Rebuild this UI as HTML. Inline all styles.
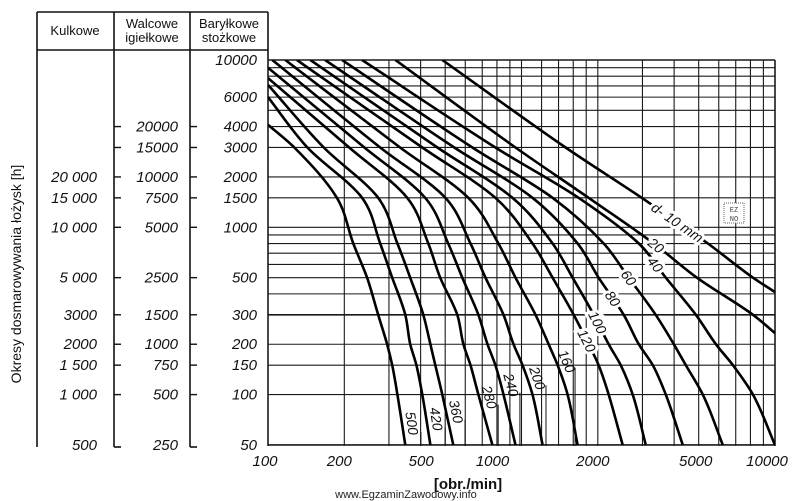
<!DOCTYPE html>
<html><head><meta charset="utf-8"><style>
html,body{margin:0;padding:0;background:#fff;overflow:hidden;}
svg{display:block;}
.it{font-family:"Liberation Sans",sans-serif;font-style:italic;font-size:15px;fill:#111;}
.hd{font-family:"Liberation Sans",sans-serif;font-size:13px;fill:#111;}
</style></head><body>
<svg id="chart" width="800" height="501" viewBox="0 0 800 501" xmlns="http://www.w3.org/2000/svg">
<g id="grid"></g>
<g id="curves"></g>
<g id="labels"></g>
<g id="cols"></g>
<g stroke="#111" stroke-width="1.6" fill="none">
  <line x1="37" y1="12" x2="268" y2="12"/>
  <line x1="37" y1="50" x2="268" y2="50"/>
  <line x1="37" y1="12" x2="37" y2="447"/>
  <line x1="114" y1="12" x2="114" y2="447"/><line x1="114" y1="447" x2="121" y2="447"/>
  <line x1="190" y1="12" x2="190" y2="447"/><line x1="190" y1="447" x2="197" y2="447"/>
  <line x1="268" y1="12" x2="268" y2="60"/>
</g>
<text class="hd" x="75" y="35" text-anchor="middle">Kulkowe</text>
<text class="hd" x="152" y="28" text-anchor="middle">Walcowe</text>
<text class="hd" x="152" y="42" text-anchor="middle">igiełkowe</text>
<text class="hd" x="229" y="28" text-anchor="middle">Baryłkowe</text>
<text class="hd" x="229" y="42" text-anchor="middle">stożkowe</text>
<text transform="translate(21,274) rotate(-90)" text-anchor="middle" style="font-family:'Liberation Sans',sans-serif;font-size:14px;fill:#111;">Okresy dosmarowywania łożysk [h]</text>
<text x="468" y="489" text-anchor="middle" style="font-family:'Liberation Sans',sans-serif;font-size:15px;font-weight:bold;fill:#111;">[obr./min]</text>
<text x="406" y="498" text-anchor="middle" style="font-family:'Liberation Sans',sans-serif;font-size:11px;fill:#222;">www.EgzaminZawodowy.info</text>
<g><rect x="724" y="203" width="20" height="20" fill="#fff" stroke="#666" stroke-dasharray="1,1"/><text x="734" y="212" text-anchor="middle" style="font-family:'Liberation Mono',monospace;font-size:7px;fill:#444;">EZ</text><text x="734" y="221" text-anchor="middle" style="font-family:'Liberation Mono',monospace;font-size:7px;fill:#444;">NO</text></g>
</svg>
<script>
// ---- data ----
const gridRpm = [100,200,300,400,500,600,700,800,900,1000,1200,1400,1600,1800,2000,3000,4000,5000,6000,7000,8000,9000,10000];
const gridHours = [10000,9000,8000,7000,6000,5000,4000,3000,2000,1500,1000,900,800,700,600,500,400,300,200,150,100,50];
const xTickValues = [100,200,500,1000,2000,5000,10000];
const xTickLabels = ["100","200","500","1000","2000","5000","10000"];
const xTickNudge = [-3,-5,-24,-29,-5,-3,-8];
const hLevels = [3000,1500,800,500,300,200,150,100,50];
const curveD = [500,420,360,280,240,200,160,120,100,80,60,40,20,10];
const curveStart = [[100,4100],[100,6000],[100,7100],[100,7800],[100,9000],[104,10000],[117,10000],[130,10000],[147,10000],[168,10000],[196,10000],[235,10000],[318,10000],[487,10000]];
const curveRpm = [
 [127,187,217,246,272,295,309,324,348],
 [143,235,277,309,348,364,385,406,437],
 [166,272,324,364,410,437,457,487,538],
 [209,354,429,478,558,590,629,676,768],
 [240,417,514,584,676,734,789,849,947],
 [277,501,629,721,849,930,1009,1105,1211],
 [332,617,811,947,1136,1279,1388,1520,1665],
 [406,789,1105,1326,1606,1840,2015,2207,2507],
 [466,921,1326,1591,1926,2207,2462,2746,3092],
 [543,1105,1665,2015,2531,2901,3295,3708,4329],
 [640,1326,2110,2648,3385,3988,4448,5192,6227],
 [789,1680,2901,3708,4873,5847,6823,8185,10000],
 [947,1840,3325,4918,8185],
 [1493,2980,5435,8185]
];
const curveEnd = [null,null,null,null,null,null,null,null,null,null,null,null,[10000,233],[10000,410]];
const curveLabelText = ["500","420","360","280","240","200","160","120","100","80","60","40","20","d- 10 mm"];
const curveLabelHours = [66,70,77,93,110,120,150,210,270,375,500,600,780,1070];
const curveLabelOnLine = [0,0,0,0,0,0,0,1,1,1,1,1,1,1];
const kulkowe = [20000,15000,10000,5000,3000,2000,1500,1000,500];
const kulkoweText = ["20 000","15 000","10 000","5 000","3000","2000","1 500","1 000","500"];
const walcowe = [20000,15000,10000,7500,5000,2500,1500,1000,750,500,250];
const barylkowe = [10000,6000,4000,3000,2000,1500,1000,500,300,200,150,100,50];
const barylTicks = [4000,3000,2000,1500,1000,500,300,200,150,100];
const walcTicks = [20000,15000,10000,7500,5000,2500,1500,1000,750,500];

// ---- scales ----
const X0=268,X1=775,Y0=60,Y1=446;
const xs = n => X0 + 253.5*Math.log10(n/100);
const ys = h => Y0 + 167.3*Math.log10(10000/h);
const NS='http://www.w3.org/2000/svg';
function mk(tag, attrs, parent){const e=document.createElementNS(NS,tag);for(const k in attrs)e.setAttribute(k,attrs[k]);parent.appendChild(e);return e;}

const grid=document.getElementById('grid');
gridRpm.forEach(v=>{
  const l=mk('line',{x1:xs(v),x2:xs(v),y1:Y0,y2:Y1,stroke:'#1a1a1a','stroke-width':(v===100||v===10000)?1.6:1.1},grid);
  
  
});
gridHours.forEach(v=>{
  const l=mk('line',{x1:X0,x2:X1,y1:ys(v),y2:ys(v),stroke:'#1a1a1a','stroke-width':(v===10000||v===50||v===300)?1.6:1.1},grid);
  
  
});
xTickValues.forEach((v,i)=>{
  const t=mk('text',{x:xs(v)+xTickNudge[i],y:466,'text-anchor':'middle',class:'it'},grid);
  t.textContent=xTickLabels[i];
  
  
});

// monotone cubic x(y)
function monotone(pts){ // pts sorted by y: [x,y]
  const n=pts.length, ys_=pts.map(p=>p[1]), xv=pts.map(p=>p[0]);
  const h=[],dl=[];
  for(let i=0;i<n-1;i++){h.push(ys_[i+1]-ys_[i]);dl.push((xv[i+1]-xv[i])/h[i]);}
  const m=new Array(n);
  m[0]=dl[0];m[n-1]=dl[n-2];
  for(let i=1;i<n-1;i++){m[i]=(dl[i-1]*dl[i]<=0)?0:(dl[i-1]+dl[i])/2;}
  for(let i=0;i<n-1;i++){if(dl[i]===0){m[i]=m[i+1]=0;continue;}const a=m[i]/dl[i],b=m[i+1]/dl[i],s=a*a+b*b;if(s>9){const t=3/Math.sqrt(s);m[i]=t*a*dl[i];m[i+1]=t*b*dl[i];}}
  let d='M'+xv[0].toFixed(1)+','+ys_[0].toFixed(1);
  for(let i=0;i<n-1;i++){
    const c1x=xv[i]+m[i]*h[i]/3,c1y=ys_[i]+h[i]/3,c2x=xv[i+1]-m[i+1]*h[i]/3,c2y=ys_[i+1]-h[i]/3;
    d+=' C'+c1x.toFixed(1)+','+c1y.toFixed(1)+' '+c2x.toFixed(1)+','+c2y.toFixed(1)+' '+xv[i+1].toFixed(1)+','+ys_[i+1].toFixed(1);
  }
  return d;
}
function curvePixels(i){
  const pts=[[xs(curveStart[i][0]),ys(curveStart[i][1])]];
  curveRpm[i].forEach((n,j)=>pts.push([xs(n),ys(hLevels[j])]));
  if(curveEnd[i])pts.push([xs(curveEnd[i][0]),ys(curveEnd[i][1])]);
  return pts;
}
const cg=document.getElementById('curves');
const cp=mk('clipPath',{id:'pc'},cg);
mk('rect',{x:X0,y:Y0,width:X1-X0,height:Y1-Y0+2},cp);
curveD.forEach((d,i)=>{
  const p=mk('path',{d:monotone(curvePixels(i)),fill:'none',stroke:'#000','stroke-width':2.6,'clip-path':'url(#pc)'},cg);
  
  
});

// labels
const lg=document.getElementById('labels');
curveD.forEach((d,i)=>{
  const px=curvePixels(i);
  const yt=ys(curveLabelHours[i]);
  let k=0; while(k<px.length-2 && px[k+1][1]<yt) k++;
  const a=px[k],b=px[k+1];
  const t=(yt-a[1])/(b[1]-a[1]);
  let x=a[0]+(b[0]-a[0])*t, y=yt;
  const dx=b[0]-a[0], dy=b[1]-a[1], len=Math.hypot(dx,dy);
  const ang=Math.atan2(dy,dx)*180/Math.PI;
  let style='font-size:14px;';
  if(curveLabelOnLine[i]){
    style+='paint-order:stroke;stroke:#fff;stroke-width:6px;';
  } else {
    // offset to the right side of the curve
    x+= (dy/len)*10; y+= (-dx/len)*10;
    const tk=mk('line',{x1:x+ (dy/len)*9,y1:y-(dx/len)*9+10,x2:x+(dy/len)*9,y2:Y1,stroke:'#111','stroke-width':1},lg);
    
    
  }
  const tx=mk('text',{x:0,y:5,'text-anchor':'middle',class:'it',transform:'translate('+x.toFixed(1)+','+y.toFixed(1)+') rotate('+ang.toFixed(1)+')',style:style},lg);
  tx.textContent=curveLabelText[i];
  
  
});

// left columns
const cols=document.getElementById('cols');
kulkowe.forEach((v,i)=>{
  const t=mk('text',{x:97,y:ys(v/10)+5,'text-anchor':'end',class:'it'},cols);
  t.textContent=kulkoweText[i];
  
  
});
walcowe.forEach(v=>{
  const t=mk('text',{x:178,y:ys(v/5)+5,'text-anchor':'end',class:'it'},cols);
  t.textContent=String(v);
  
  
});
barylkowe.forEach(v=>{
  const t=mk('text',{x:257,y:ys(v)+5,'text-anchor':'end',class:'it'},cols);
  t.textContent=String(v);
  
  
});
walcTicks.forEach(v=>{
  const l=mk('line',{x1:114,x2:121,y1:ys(v/5),y2:ys(v/5),stroke:'#111','stroke-width':1.4},cols);
  
  
});
barylTicks.forEach(v=>{
  const l=mk('line',{x1:190,x2:197,y1:ys(v),y2:ys(v),stroke:'#111','stroke-width':1.4},cols);
  
  
});
</script>
</body></html>
